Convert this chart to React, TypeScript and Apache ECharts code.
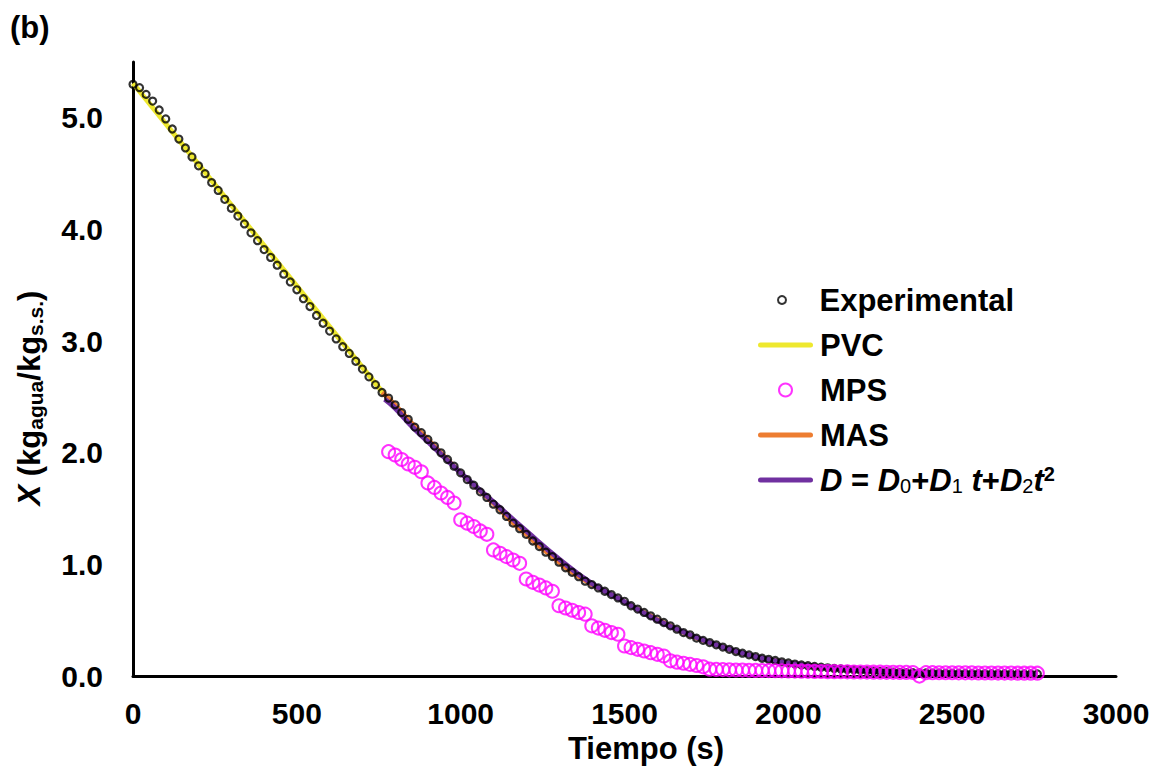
import React, { useEffect, useRef } from 'react';
import * as echarts from 'echarts';

const FONT = '"Liberation Sans", Arial, Helvetica, sans-serif';

// Experimental drying data: time (s) and moisture X (kg agua / kg s.s.)
const expTime = [
  0, 20, 40, 60, 80, 100, 120, 140, 160, 180, 200, 220, 240, 260, 280, 300, 320, 340, 360, 380,
  400, 420, 440, 460, 480, 500, 520, 540, 560, 580, 600, 620, 640, 660, 680, 700, 720, 740, 760, 780,
  800, 820, 840, 860, 880, 900, 920, 940, 960, 980, 1000, 1020, 1040, 1060, 1080, 1100, 1120, 1140, 1160, 1180,
  1200, 1220, 1240, 1260, 1280, 1300, 1320, 1340, 1360, 1380, 1400, 1420, 1440, 1460, 1480, 1500, 1520, 1540, 1560, 1580,
  1600, 1620, 1640, 1660, 1680, 1700, 1720, 1740, 1760, 1780, 1800, 1820, 1840, 1860, 1880, 1900, 1920, 1940, 1960, 1980,
  2000, 2020, 2040, 2060, 2080, 2100, 2120, 2140, 2160, 2180, 2200, 2220, 2240, 2260, 2280, 2300, 2320, 2340, 2360, 2380,
  2400, 2420, 2440, 2460, 2480, 2500, 2520, 2540, 2560, 2580, 2600, 2620, 2640, 2660, 2680, 2700, 2720, 2740, 2760,
];
const expMoisture = [
  5.30, 5.27, 5.21, 5.15, 5.07, 4.99, 4.90, 4.81, 4.73, 4.65, 4.57, 4.50, 4.42, 4.35, 4.27, 4.19, 4.12, 4.05, 3.97, 3.90,
  3.82, 3.75, 3.68, 3.60, 3.53, 3.46, 3.38, 3.31, 3.23, 3.16, 3.09, 3.02, 2.95, 2.89, 2.82, 2.75, 2.68, 2.61, 2.54, 2.49,
  2.43, 2.36, 2.30, 2.23, 2.18, 2.12, 2.06, 2.00, 1.94, 1.88, 1.82, 1.76, 1.71, 1.65, 1.60, 1.54, 1.49, 1.43, 1.37, 1.32,
  1.27, 1.21, 1.16, 1.11, 1.07, 1.02, 0.97, 0.93, 0.89, 0.85, 0.82, 0.79, 0.76, 0.73, 0.70, 0.67, 0.63, 0.60, 0.57, 0.54,
  0.51, 0.48, 0.45, 0.42, 0.39, 0.37, 0.34, 0.32, 0.30, 0.28, 0.26, 0.24, 0.22, 0.205, 0.19, 0.175, 0.16, 0.15, 0.14, 0.128,
  0.118, 0.108, 0.10, 0.093, 0.086, 0.08, 0.074, 0.068, 0.064, 0.06, 0.056, 0.052, 0.048, 0.045, 0.042, 0.039, 0.036, 0.034, 0.032, 0.030,
  0.029, 0.028, 0.027, 0.026, 0.025, 0.025, 0.024, 0.024, 0.023, 0.023, 0.022, 0.022, 0.021, 0.021, 0.021, 0.020, 0.020, 0.020, 0.020,
];

// PVC (constant rate period) straight line
const pvcTime = [0, 765];
const pvcMoisture = [5.31, 2.53];

// MPS model points
const mpsTime = [
  780, 800, 820, 840, 860, 880, 900, 920, 940, 960, 980, 1000, 1020, 1040, 1060, 1080, 1100, 1120, 1140, 1160,
  1180, 1200, 1220, 1240, 1260, 1280, 1300, 1320, 1340, 1360, 1380, 1400, 1420, 1440, 1460, 1480, 1500, 1520, 1540, 1560,
  1580, 1600, 1620, 1640, 1660, 1680, 1700, 1720, 1740, 1760, 1780, 1800, 1820, 1840, 1860, 1880, 1900, 1920, 1940, 1960,
  1980, 2000, 2020, 2040, 2060, 2080, 2100, 2120, 2140, 2160, 2180, 2200, 2220, 2240, 2260, 2280, 2300, 2320, 2340, 2360,
  2380, 2400, 2420, 2440, 2460, 2480, 2500, 2520, 2540, 2560, 2580, 2600, 2620, 2640, 2660, 2680, 2700, 2720, 2740, 2760,
];
const mpsMoisture = [
  2.01, 1.98, 1.94, 1.90, 1.87, 1.83, 1.73, 1.69, 1.64, 1.60, 1.55, 1.40, 1.37, 1.34, 1.30, 1.27, 1.13, 1.10, 1.07, 1.04,
  1.01, 0.87, 0.84, 0.815, 0.79, 0.76, 0.63, 0.61, 0.59, 0.57, 0.555, 0.45, 0.43, 0.41, 0.39, 0.375, 0.27, 0.255, 0.24, 0.225,
  0.21, 0.195, 0.18, 0.137, 0.125, 0.115, 0.105, 0.095, 0.083, 0.062, 0.060, 0.058, 0.056, 0.055, 0.054, 0.052, 0.051, 0.050, 0.049, 0.048,
  0.047, 0.046, 0.045, 0.044, 0.043, 0.042, 0.041, 0.040, 0.040, 0.039, 0.038, 0.037, 0.037, 0.036, 0.035, 0.035, 0.034, 0.034, 0.033, 0.033,
  0.032, 0.000, 0.031, 0.031, 0.030, 0.030, 0.030, 0.029, 0.029, 0.029, 0.028, 0.028, 0.028, 0.027, 0.027, 0.027, 0.026, 0.026, 0.026, 0.026,
];

// MAS model curve
const masTime = [
  760, 800, 840, 880, 920, 960, 1000, 1040, 1080, 1120, 1160, 1200, 1240, 1280, 1320, 1360, 1400, 1440, 1480, 1520,
  1560, 1600, 1640, 1680, 1720, 1760, 1800, 1840, 1880, 1920, 1960, 2000, 2040, 2080, 2120, 2160, 2200, 2240, 2280, 2320,
  2360, 2400, 2440, 2480, 2520, 2560, 2600, 2640, 2680, 2720, 2760,
];
const masMoisture = [
  2.54, 2.43, 2.30, 2.18, 2.06, 1.94, 1.82, 1.71, 1.60, 1.49, 1.37, 1.27, 1.16, 1.07, 0.97, 0.89, 0.82, 0.76, 0.70, 0.63,
  0.57, 0.51, 0.45, 0.39, 0.34, 0.30, 0.26, 0.22, 0.19, 0.16, 0.14, 0.118, 0.10, 0.086, 0.074, 0.064, 0.056, 0.048, 0.042, 0.036,
  0.032, 0.029, 0.027, 0.025, 0.024, 0.023, 0.022, 0.021, 0.021, 0.020, 0.020,
];

// Variable diffusivity model D = D0 + D1 t + D2 t^2
const dTime = [768, 800, 850, 900, 1000, 1100, 1200, 1300, 1400, 1500, 1600, 1700, 1800, 1900, 2000, 2200, 2400, 2600, 2760];
const dMoisture = [2.48, 2.40, 2.24, 2.10, 1.82, 1.56, 1.30, 1.05, 0.83, 0.665, 0.50, 0.37, 0.26, 0.175, 0.118, 0.057, 0.03, 0.022, 0.02];

const seriesNames = ['Experimental', 'PVC', 'MPS', 'MAS', 'D = D0+D1t+D2t2'];
const seriesColors = ['#000000', '#EEE82E', '#FF00FF', '#ED7D31', '#7030A0'];

const zip = (t: number[], v: number[]) => t.map((x, i) => [x, v[i]]);

const linePath = 'path://M2.5 0H52.5A2.5 2.5 0 0 1 52.5 5H2.5A2.5 2.5 0 0 1 2.5 0Z';

export default function App() {
  const ref = useRef<HTMLDivElement>(null);

  useEffect(() => {
    if (!ref.current) return;
    const chart = echarts.init(ref.current, undefined, { renderer: 'svg' });

    const legendText = {
      fontSize: 31,
      fontWeight: 'bold' as const,
      fontFamily: FONT,
      color: '#000',
      lineHeight: 32,
      padding: [0, 0, 0, 2],
      rich: {
        di: { fontSize: 31, fontWeight: 'bold', fontStyle: 'italic', fontFamily: FONT, lineHeight: 32, color: '#000' },
        n: { fontSize: 31, fontWeight: 'bold', fontFamily: FONT, lineHeight: 32, color: '#000' },
        sb: { fontSize: 20, fontWeight: 'normal', fontFamily: FONT, lineHeight: 18, verticalAlign: 'bottom', color: '#000' },
        sp: { fontSize: 20, fontWeight: 'bold', fontFamily: FONT, lineHeight: 18, verticalAlign: 'top', color: '#000' },
      },
    };

    const option: any = {
      animation: false,
      backgroundColor: '#fff',
      grid: { left: 133, right: 43, top: 62, bottom: 92, containLabel: false },
      graphic: [
        {
          type: 'text',
          left: 10,
          top: 12,
          style: { text: '(b)', font: `bold 31px ${FONT}`, fill: '#000' },
        },
      ],
      legend: [
        {
          orient: 'vertical',
          left: 772,
          top: 279,
          itemWidth: 55,
          itemHeight: 8,
          itemGap: 13,
          selectedMode: false,
          textStyle: { ...legendText, padding: [0, 0, 0, 5] },
          data: [{ name: seriesNames[0], icon: 'emptyCircle', itemStyle: { color: seriesColors[0], borderWidth: 0 } }],
        },
        {
          orient: 'vertical',
          left: 753,
          top: 324,
          itemWidth: 55,
          itemHeight: 13,
          itemGap: 13,
          selectedMode: false,
          textStyle: legendText,
          formatter: (name: string) =>
            name === seriesNames[4]
              ? '{di|D}{n| = }{di|D}{sb|0}{n|+}{di|D}{sb|1}{di| t}{n|+}{di|D}{sb|2}{di|t}{sp|2}'
              : name,
          data: [
            { name: seriesNames[1], icon: linePath, itemStyle: { color: seriesColors[1], borderWidth: 0 } },
            { name: seriesNames[2], icon: 'emptyCircle', itemStyle: { color: seriesColors[2], borderWidth: 0 } },
            { name: seriesNames[3], icon: linePath, itemStyle: { color: seriesColors[3], borderWidth: 0 } },
            { name: seriesNames[4], icon: linePath, itemStyle: { color: seriesColors[4], borderWidth: 0 } },
          ],
        },
      ],
      xAxis: {
        type: 'value',
        min: 0,
        max: 3000,
        interval: 500,
        name: 'Tiempo (s)',
        nameLocation: 'middle',
        nameGap: 51,
        nameTextStyle: { fontSize: 31, fontWeight: 'bold', fontFamily: FONT, color: '#000', padding: [0, 0, 0, 43] },
        axisLine: { show: true, lineStyle: { color: '#000', width: 3 } },
        axisTick: { show: false },
        splitLine: { show: false },
        axisLabel: {
          fontSize: 30,
          fontWeight: 'bold',
          fontFamily: FONT,
          color: '#000',
          margin: 22,
          formatter: (v: number) => String(v),
        },
      },
      yAxis: {
        type: 'value',
        min: 0,
        max: 5.5,
        interval: 1,
        name: '{xi|X}{b| (kg}{sub|agua}{b|/kg}{sub|s.s.}{b|)}',
        nameLocation: 'middle',
        nameRotate: 90,
        nameGap: 87,
        nameTextStyle: {
          padding: [0, 58, 0, 0],
          rich: {
            xi: { fontSize: 31, fontWeight: 'bold', fontStyle: 'italic', fontFamily: FONT, lineHeight: 34, color: '#000' },
            b: { fontSize: 31, fontWeight: 'bold', fontFamily: FONT, lineHeight: 34, color: '#000' },
            sub: { fontSize: 21, fontWeight: 'bold', fontFamily: FONT, lineHeight: 20, verticalAlign: 'bottom', color: '#000' },
          },
        },
        axisLine: { show: true, lineStyle: { color: '#000', width: 3 } },
        axisTick: { show: false },
        splitLine: { show: false },
        axisLabel: {
          fontSize: 30,
          fontWeight: 'bold',
          fontFamily: FONT,
          color: '#000',
          margin: 30,
          formatter: (v: number) => (v > 5.01 ? '' : v.toFixed(1)),
        },
      },
      series: [
        {
          name: seriesNames[1],
          type: 'line',
          data: zip(pvcTime, pvcMoisture),
          showSymbol: false,
          symbol: 'none',
          color: seriesColors[1],
          lineStyle: { color: seriesColors[1], width: 5 },
          z: 2,
        },
        {
          name: seriesNames[3],
          type: 'line',
          data: zip(masTime, masMoisture),
          showSymbol: false,
          symbol: 'none',
          smooth: true,
          color: seriesColors[3],
          lineStyle: { color: seriesColors[3], width: 4.5 },
          z: 3,
        },
        {
          name: seriesNames[4],
          type: 'line',
          data: zip(dTime, dMoisture),
          showSymbol: false,
          symbol: 'none',
          smooth: true,
          color: seriesColors[4],
          lineStyle: { color: seriesColors[4], width: 5 },
          z: 4,
        },
        {
          name: seriesNames[0],
          type: 'scatter',
          data: zip(expTime, expMoisture),
          symbol: 'circle',
          symbolSize: 7,
          color: seriesColors[0],
          itemStyle: { color: 'rgba(0,0,0,0)', borderColor: seriesColors[0], borderWidth: 2.2 },
          z: 5,
        },
        {
          name: seriesNames[2],
          type: 'scatter',
          data: zip(mpsTime, mpsMoisture),
          symbol: 'circle',
          symbolSize: 13,
          color: seriesColors[2],
          itemStyle: { color: 'rgba(0,0,0,0)', borderColor: seriesColors[2], borderWidth: 2 },
          z: 6,
        },
      ],
    };

    chart.setOption(option);
    return () => {
      chart.dispose();
    };
  }, []);

  return (
    <div
      ref={ref}
      style={{ position: 'fixed', left: 0, top: 0, width: 1159, height: 769, background: '#fff' }}
    />
  );
}
